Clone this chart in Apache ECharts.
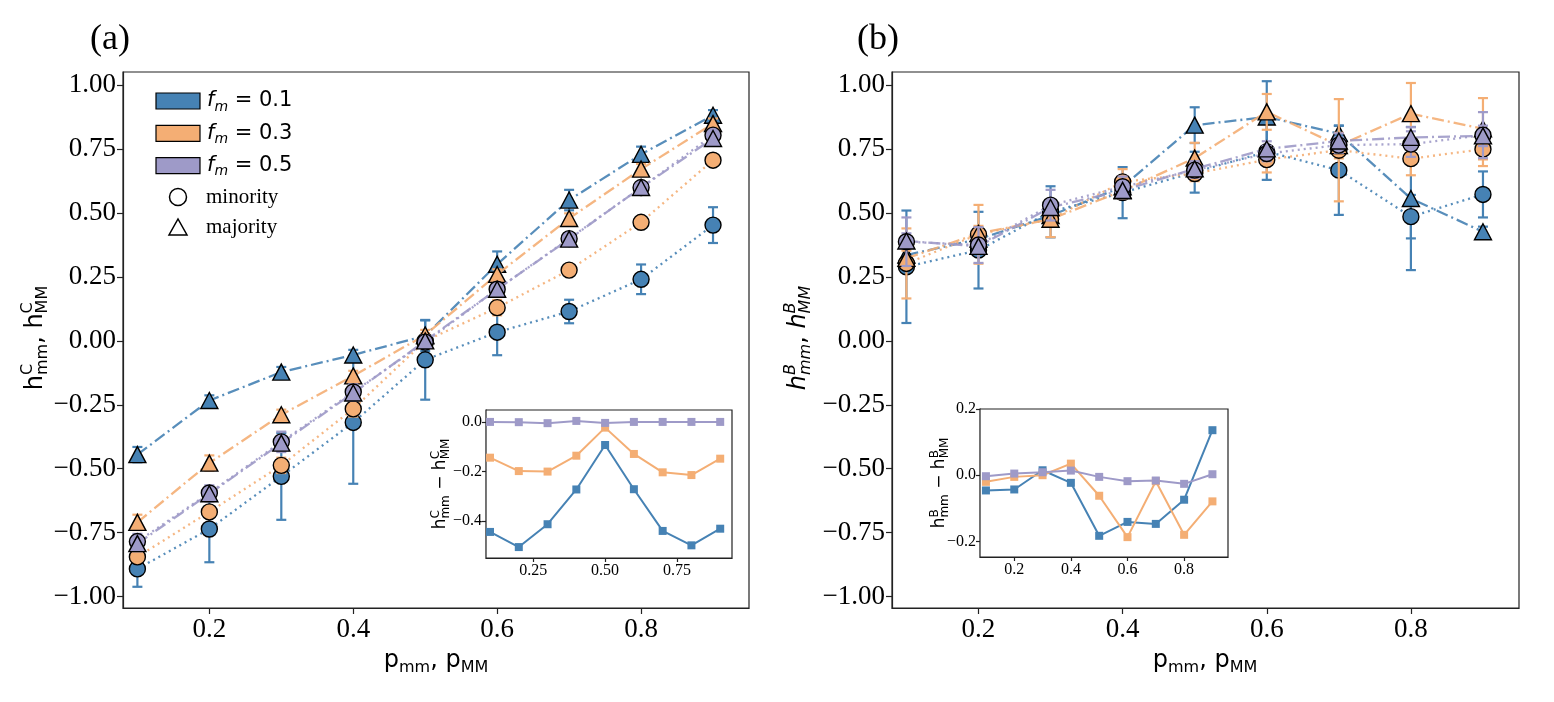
<!DOCTYPE html>
<html>
<head>
<meta charset="utf-8">
<script src="https://cdn.jsdelivr.net/npm/echarts@6.0.0/dist/echarts.min.js"></script>
<style>
  html, body { margin: 0; padding: 0; background: #fff; }
  #chart { width: 1554px; height: 702px; }
</style>
</head>
<body>
<div id="chart"></div>
<script>
// x values shared by every panel
var pValues = [0.1, 0.2, 0.3, 0.4, 0.5, 0.6, 0.7, 0.8, 0.9];

// (a) h^C : minority (circles) / majority (triangles), with error sizes
var cMin01 = [-0.892, -0.736, -0.530, -0.319, -0.074, 0.034, 0.115, 0.241, 0.453];
var cMaj01 = [-0.445, -0.233, -0.122, -0.055, 0.020, 0.300, 0.551, 0.730, 0.883];
var cMin03 = [-0.845, -0.669, -0.487, -0.266, 0.000, 0.130, 0.277, 0.464, 0.707];
var cMaj03 = [-0.710, -0.478, -0.289, -0.137, 0.023, 0.260, 0.479, 0.672, 0.850];
var cMin05 = [-0.785, -0.595, -0.395, -0.200, -0.005, 0.202, 0.400, 0.600, 0.805];
var cMaj05 = [-0.793, -0.598, -0.400, -0.204, 0.000, 0.202, 0.398, 0.600, 0.792];
var cMinErr01 = [0.07, 0.13, 0.17, 0.24, 0.156, 0.09, 0.046, 0.058, 0.07];
var cMajErr01 = [0.03, 0.02, 0.02, 0.02, 0.06, 0.05, 0.04, 0.03, 0.02];
var cMinErr03 = [0.02, 0.02, 0.03, 0.03, 0.03, 0.03, 0.02, 0.02, 0.02];
var cMajErr03 = [0.03, 0.03, 0.02, 0.02, 0.02, 0.02, 0.02, 0.02, 0.02];
var cMinErr05 = [0.03, 0.03, 0.04, 0.03, 0.02, 0.02, 0.02, 0.02, 0.02];
var cMajErr05 = [0.03, 0.03, 0.03, 0.03, 0.02, 0.02, 0.02, 0.02, 0.02];

// (b) h^B
var bMin01 = [0.290, 0.355, 0.505, 0.580, 0.660, 0.740, 0.668, 0.486, 0.573];
var bMaj01 = [0.336, 0.398, 0.490, 0.603, 0.844, 0.876, 0.811, 0.557, 0.427];
var bMin03 = [0.303, 0.417, 0.476, 0.622, 0.655, 0.709, 0.746, 0.713, 0.750];
var bMaj03 = [0.323, 0.420, 0.476, 0.587, 0.715, 0.896, 0.764, 0.889, 0.830];
var bMin05 = [0.388, 0.375, 0.531, 0.603, 0.668, 0.733, 0.766, 0.770, 0.805];
var bMaj05 = [0.391, 0.370, 0.522, 0.589, 0.673, 0.751, 0.782, 0.796, 0.802];
var bMinErr01 = [0.22, 0.15, 0.10, 0.10, 0.08, 0.11, 0.175, 0.085, 0.09];
var bMajErr01 = [0.03, 0.04, 0.03, 0.03, 0.07, 0.14, 0.03, 0.28, 0.02];
var bMinErr03 = [0.137, 0.115, 0.07, 0.05, 0.03, 0.05, 0.20, 0.065, 0.066];
var bMajErr03 = [0.03, 0.03, 0.03, 0.03, 0.06, 0.07, 0.05, 0.12, 0.12];
var bMinErr05 = [0.095, 0.07, 0.06, 0.04, 0.03, 0.03, 0.03, 0.05, 0.09];
var bMajErr05 = [0.03, 0.03, 0.03, 0.03, 0.03, 0.03, 0.03, 0.04, 0.04];

// insets: minority - majority
var dC01 = [-0.443, -0.504, -0.412, -0.272, -0.093, -0.271, -0.439, -0.497, -0.430];
var dC03 = [-0.144, -0.198, -0.200, -0.136, -0.023, -0.129, -0.203, -0.214, -0.148];
var dC05 = [0.000, -0.001, -0.005, 0.004, -0.004, 0.000, 0.000, 0.000, 0.000];
var dB01 = [-0.046, -0.043, 0.015, -0.023, -0.183, -0.141, -0.147, -0.074, 0.136];
var dB03 = [-0.020, -0.005, 0.000, 0.035, -0.062, -0.187, -0.018, -0.180, -0.079];
var dB05 = [-0.003, 0.005, 0.009, 0.014, -0.005, -0.018, -0.016, -0.026, 0.003];

// tick labels
var mainYTicks = [-1, -0.75, -0.5, -0.25, 0, 0.25, 0.5, 0.75, 1];
var mainXTicks = [0.2, 0.4, 0.6, 0.8];
var insetCYTicks = [-0.4, -0.2, 0];
var insetCXTicks = [0.25, 0.5, 0.75];
var insetBYTicks = [-0.2, 0, 0.2];
var insetBXTicks = [0.2, 0.4, 0.6, 0.8];

var fLabels = ['0.1', '0.3', '0.5'];
var colors = ['#4682b4', '#f4ae74', '#9e9ac8'];

var SERIF = 'Liberation Serif';
var SANS = 'DejaVu Sans';

var chart = echarts.init(document.getElementById('chart'));

// text with sub/superscripts built from pieces
var measureCtx = document.createElement('canvas').getContext('2d');
function mathChildren(items, family, anchor) {
  var x = 0, out = [];
  items.forEach(function (it) {
    var group = it.pair || [it], w = 0;
    group.forEach(function (p) {
      var font = (p.it ? 'italic ' : '') + p.s + 'px "' + family + '"';
      measureCtx.font = font;
      w = Math.max(w, measureCtx.measureText(p.t).width);
      out.push({
        type: 'text', x: x, y: p.dy || 0, silent: true,
        style: { text: p.t, font: font, fill: '#000', textAlign: 'left', textVerticalAlign: 'middle', align: 'left', verticalAlign: 'middle' }
      });
    });
    x += w;
  });
  if (anchor === 'center') out.forEach(function (c) { c.x -= x / 2; });
  return out;
}
function hLabel(sup, sep, size, sub, it) {
  var d1 = -size * 0.33, d2 = size * 0.3;
  return [
    { t: 'h', s: size, it: it },
    { pair: [{ t: sup, s: sub, dy: d1, it: it }, { t: 'mm', s: sub, dy: d2, it: it }] },
    { t: sep, s: size },
    { t: 'h', s: size, it: it },
    { pair: [{ t: sup, s: sub, dy: d1, it: it }, { t: 'MM', s: sub, dy: d2, it: it }] }
  ];
}
function pLabel() {
  return [
    { t: 'p', s: 24 }, { t: 'mm', s: 16, dy: 7 },
    { t: ', ', s: 24 },
    { t: 'p', s: 24 }, { t: 'MM', s: 16, dy: 7 }
  ];
}

function fmt(digits) {
  return function (v) { return v.toFixed(digits).replace('-', '\u2212'); };
}

function makeX(grid, min, max, ticks, digits, size) {
  return {
    type: 'value', gridIndex: grid, min: min, max: max,
    axisLine: { show: true, onZero: false, lineStyle: { color: '#222', width: 1.2 } },
    axisTick: { show: true, customValues: ticks, length: size > 20 ? 6 : 4, lineStyle: { color: '#222', width: 1.2 } },
    axisLabel: { customValues: ticks, formatter: fmt(digits), fontFamily: SERIF, fontSize: size, color: '#000', margin: size > 20 ? 8 : 5 },
    splitLine: { show: false }
  };
}
function makeY(grid, min, max, ticks, digits, size) {
  var a = makeX(grid, min, max, ticks, digits, size);
  a.axisLabel.margin = size > 20 ? 7 : 4;
  return a;
}

// error bar drawn with caps
function errSeries(xi, vals, errs, color, z) {
  return {
    type: 'custom', xAxisIndex: xi, yAxisIndex: xi, z: z, silent: true,
    data: pValues.map(function (p, i) { return [p, vals[i] - errs[i], vals[i] + errs[i]]; }),
    encode: { x: 0, y: [1, 2] },
    renderItem: function (params, api) {
      var top = api.coord([api.value(0), api.value(2)]);
      var bot = api.coord([api.value(0), api.value(1)]);
      var st = { stroke: color, lineWidth: 2.2 };
      var c = 5;
      return {
        type: 'group', children: [
          { type: 'line', shape: { x1: top[0], y1: top[1], x2: bot[0], y2: bot[1] }, style: st },
          { type: 'line', shape: { x1: top[0] - c, y1: top[1], x2: top[0] + c, y2: top[1] }, style: st },
          { type: 'line', shape: { x1: bot[0] - c, y1: bot[1], x2: bot[0] + c, y2: bot[1] }, style: st }
        ]
      };
    }
  };
}
function markSeries(xi, vals, color, symbol, dash, z) {
  return {
    type: 'line', xAxisIndex: xi, yAxisIndex: xi, z: z, silent: true,
    data: pValues.map(function (p, i) { return [p, vals[i]]; }),
    symbol: symbol, symbolSize: symbol === 'circle' ? 16 : [17, 16], showAllSymbol: true,
    lineStyle: { color: color, width: 2.3, type: dash, opacity: 0.9 },
    itemStyle: { color: color, borderColor: '#000', borderWidth: 1.4 },
    emphasis: { disabled: true }
  };
}
function insetSeries(xi, vals, color) {
  return {
    type: 'line', xAxisIndex: xi, yAxisIndex: xi, z: 12, silent: true,
    data: pValues.map(function (p, i) { return [p, vals[i]]; }),
    symbol: 'rect', symbolSize: 8, showAllSymbol: true,
    lineStyle: { color: color, width: 2 },
    itemStyle: { color: color },
    emphasis: { disabled: true }
  };
}

var dotted = [2, 4];
var dashDot = [12, 4, 2, 4];

var series = [];
var cMin = [cMin01, cMin03, cMin05], cMaj = [cMaj01, cMaj03, cMaj05];
var cMinE = [cMinErr01, cMinErr03, cMinErr05], cMajE = [cMajErr01, cMajErr03, cMajErr05];
var bMin = [bMin01, bMin03, bMin05], bMaj = [bMaj01, bMaj03, bMaj05];
var bMinE = [bMinErr01, bMinErr03, bMinErr05], bMajE = [bMajErr01, bMajErr03, bMajErr05];
for (var k = 0; k < 3; k++) {
  var z = 3 + k;
  series.push(errSeries(0, cMin[k], cMinE[k], colors[k], z));
  series.push(markSeries(0, cMin[k], colors[k], 'circle', dotted, z));
  series.push(errSeries(0, cMaj[k], cMajE[k], colors[k], z));
  series.push(markSeries(0, cMaj[k], colors[k], 'triangle', dashDot, z));
  series.push(errSeries(1, bMin[k], bMinE[k], colors[k], z));
  series.push(markSeries(1, bMin[k], colors[k], 'circle', dotted, z));
  series.push(errSeries(1, bMaj[k], bMajE[k], colors[k], z));
  series.push(markSeries(1, bMaj[k], colors[k], 'triangle', dashDot, z));
}
[dC01, dC03, dC05].forEach(function (d, k) { series.push(insetSeries(2, d, colors[k])); });
[dB01, dB03, dB05].forEach(function (d, k) { series.push(insetSeries(3, d, colors[k])); });

// legend of panel (a)
var legendItems = [];
fLabels.forEach(function (f, k) {
  var y = 93 + k * 32.3;
  legendItems.push({ type: 'rect', shape: { x: 156, y: y, width: 44, height: 16 }, style: { fill: colors[k], stroke: '#000', lineWidth: 1.2 } });
  legendItems.push({
    type: 'group', x: 207, y: y + 8,
    children: mathChildren([{ t: 'f', s: 21, it: true }, { t: 'm', s: 14, it: true, dy: 6 }, { t: ' = ' + f, s: 21 }], SANS, 'left')
  });
});
legendItems.push({ type: 'circle', shape: { cx: 178, cy: 197, r: 8.5 }, style: { fill: 'none', stroke: '#000', lineWidth: 1.5 } });
legendItems.push({ type: 'polygon', shape: { points: [[169, 235], [187, 235], [178, 219]] }, style: { fill: 'none', stroke: '#000', lineWidth: 1.5 } });
legendItems.push({ type: 'text', x: 206, y: 197, style: { text: 'minority', font: '21px "' + SERIF + '"', fill: '#000', textVerticalAlign: 'middle', verticalAlign: 'middle' } });
legendItems.push({ type: 'text', x: 206, y: 227, style: { text: 'majority', font: '21px "' + SERIF + '"', fill: '#000', textVerticalAlign: 'middle', verticalAlign: 'middle' } });

var option = {
  animation: false,
  backgroundColor: '#fff',
  grid: [
    { left: 123, top: 72, width: 626, height: 536, show: true, borderColor: '#222', borderWidth: 1.2, backgroundColor: '#fff' },
    { left: 892, top: 72, width: 627, height: 536, show: true, borderColor: '#222', borderWidth: 1.2, backgroundColor: '#fff' },
    { left: 486, top: 410, width: 246, height: 148, show: true, borderColor: '#222', borderWidth: 1.2, backgroundColor: '#fff', z: 10 },
    { left: 980, top: 409, width: 248, height: 148, show: true, borderColor: '#222', borderWidth: 1.2, backgroundColor: '#fff', z: 10 }
  ],
  xAxis: [
    makeX(0, 0.08, 0.95, mainXTicks, 1, 27),
    makeX(1, 0.08, 0.95, mainXTicks, 1, 27),
    makeX(2, 0.086, 0.941, insetCXTicks, 2, 16),
    makeX(3, 0.079, 0.955, insetBXTicks, 1, 16)
  ],
  yAxis: [
    makeY(0, -1.045, 1.052, mainYTicks, 2, 27),
    makeY(1, -1.045, 1.052, mainYTicks, 2, 27),
    makeY(2, -0.548, 0.048, insetCYTicks, 1, 16),
    makeY(3, -0.247, 0.2, insetBYTicks, 1, 16)
  ],
  series: series,
  graphic: [
    { type: 'text', x: 110, y: 40, style: { text: '(a)', font: '36px "' + SERIF + '"', fill: '#000', textAlign: 'center', textVerticalAlign: 'middle', align: 'center', verticalAlign: 'middle' } },
    { type: 'text', x: 878, y: 40, style: { text: '(b)', font: '36px "' + SERIF + '"', fill: '#000', textAlign: 'center', textVerticalAlign: 'middle', align: 'center', verticalAlign: 'middle' } },
    { type: 'group', x: 436, y: 661, children: mathChildren(pLabel(), SANS, 'center') },
    { type: 'group', x: 1205, y: 661, children: mathChildren(pLabel(), SANS, 'center') },
    { type: 'group', x: 36, y: 338, rotation: Math.PI / 2, children: mathChildren(hLabel('C', ', ', 24, 16, false), SANS, 'center') },
    { type: 'group', x: 799, y: 338, rotation: Math.PI / 2, children: mathChildren(hLabel('B', ', ', 24, 16, true), SANS, 'center') },
    { type: 'group', x: 441, y: 484, z: 20, rotation: Math.PI / 2, children: mathChildren(hLabel('C', ' \u2212 ', 17, 12, false), SANS, 'center') },
    { type: 'group', x: 940, y: 483, z: 20, rotation: Math.PI / 2, children: mathChildren(hLabel('B', ' \u2212 ', 17, 12, false), SANS, 'center') },
    { type: 'group', children: legendItems }
  ]
};

chart.setOption(option);
</script>
</body>
</html>
